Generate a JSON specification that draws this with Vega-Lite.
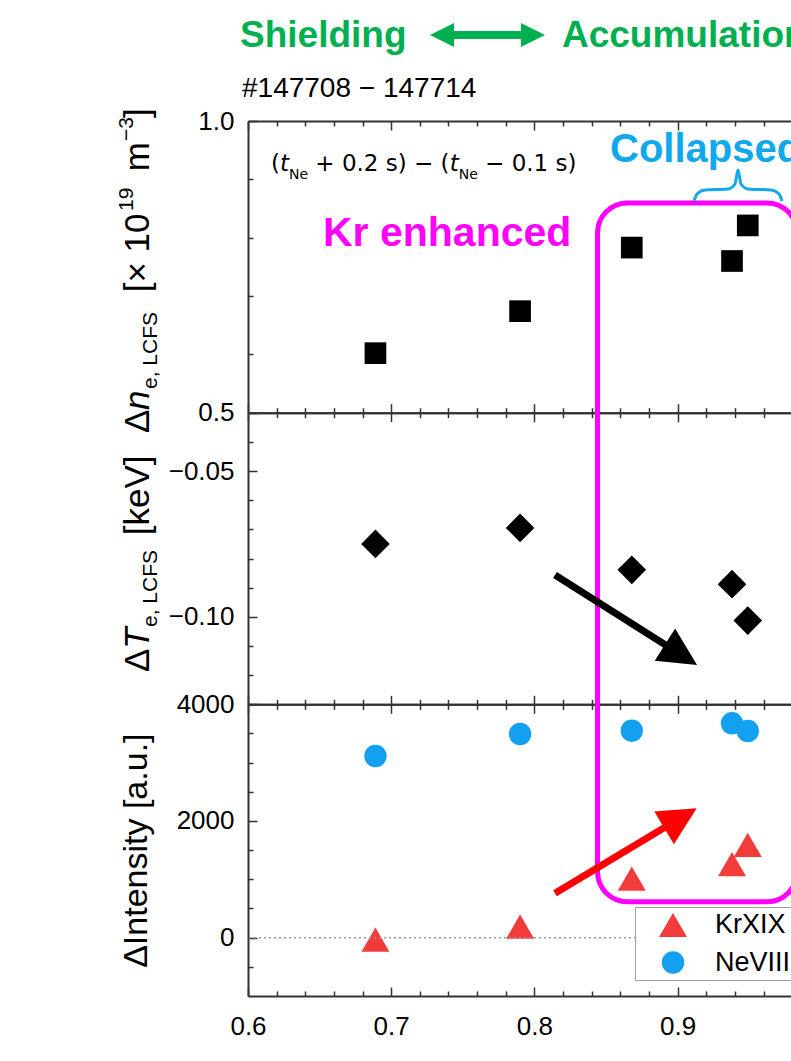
{
  "$schema": "https://vega.github.io/schema/vega-lite/v6.json",
  "width": 543,
  "height": 875,
  "autosize": "none",
  "padding": {"left": 248, "top": 121, "right": 0, "bottom": 65},
  "background": "white",
  "config": {
    "view": {"stroke": null},
    "axis": {
      "domainColor": "#333333", "domainWidth": 2, "tickColor": "#333333", "tickWidth": 1.5, "ticks": true, "tickOpacity": 1,
      "labelFont": "Liberation Sans", "labelFontSize": 26, "labelColor": "#000000",
      "grid": false, "labelFlush": false, "labelOverlap": false
    }
  },
  "datasets": {
    "ne": [
      {"ne": 0.689, "dne": 0.602},
      {"ne": 0.790, "dne": 0.674},
      {"ne": 0.868, "dne": 0.783},
      {"ne": 0.938, "dne": 0.760},
      {"ne": 0.949, "dne": 0.821}
    ],
    "te": [
      {"ne": 0.689, "dte": -0.0750},
      {"ne": 0.790, "dte": -0.0695},
      {"ne": 0.868, "dte": -0.0839},
      {"ne": 0.938, "dte": -0.0888},
      {"ne": 0.949, "dte": -0.1013}
    ],
    "inten": [
      {"ne": 0.689, "ion": "KrXIX", "dI": -32},
      {"ne": 0.790, "ion": "KrXIX", "dI": 188},
      {"ne": 0.868, "ion": "KrXIX", "dI": 1011},
      {"ne": 0.938, "ion": "KrXIX", "dI": 1259},
      {"ne": 0.949, "ion": "KrXIX", "dI": 1589},
      {"ne": 0.689, "ion": "NeVIII", "dI": 3114},
      {"ne": 0.790, "ion": "NeVIII", "dI": 3491},
      {"ne": 0.868, "ion": "NeVIII", "dI": 3548},
      {"ne": 0.938, "ion": "NeVIII", "dI": 3675},
      {"ne": 0.949, "ion": "NeVIII", "dI": 3543}
    ]
  },
  "layer": [
    {
      "data": {"name": "ne"},
      "mark": {"type": "point", "shape": "square", "filled": true, "size": 470, "color": "#000000", "opacity": 1},
      "encoding": {
        "x": {"field": "ne", "type": "quantitative", "scale": {"domain": [0.6, 0.97919], "nice": false, "zero": false},
          "axis": {"orient": "top", "values": [0.6, 0.7, 0.8, 0.9], "labels": false, "title": null, "tickSize": -9}},
        "y": {"field": "dne", "type": "quantitative", "scale": {"domain": [0.5, 1], "range": [291.67, 0], "nice": false, "zero": false},
          "axis": {"orient": "left", "values": [0.5, 1.0], "format": ".1f", "title": null, "tickSize": -9, "labelPadding": 23}}
      }
    },
    {
      "data": {"name": "te"},
      "mark": {"type": "point", "shape": "diamond", "filled": true, "size": 820, "color": "#000000", "opacity": 1},
      "encoding": {
        "x": {"field": "ne", "type": "quantitative", "scale": {"domain": [0.6, 0.97919], "nice": false, "zero": false},
          "axis": {"orient": "bottom", "offset": -583.33, "values": [0.6, 0.7, 0.8, 0.9], "labels": false, "title": null, "tickSize": 9}},
        "y": {"field": "dte", "type": "quantitative", "scale": {"domain": [-0.13, -0.03], "range": [583.33, 291.67], "nice": false, "zero": false},
          "axis": {"orient": "left", "values": [-0.1, -0.05], "format": ".2f", "title": null, "tickSize": -9, "labelPadding": 23}}
      }
    },
    {
      "data": {"name": "inten"},
      "mark": {"type": "point", "filled": true, "opacity": 1, "strokeWidth": 0},
      "encoding": {
        "x": {"field": "ne", "type": "quantitative", "scale": {"domain": [0.6, 0.97919], "nice": false, "zero": false},
          "axis": {"orient": "bottom", "values": [0.6, 0.7, 0.8, 0.9], "format": ".1f", "title": null, "tickSize": -9, "labelPadding": 26}},
        "y": {"field": "dI", "type": "quantitative", "scale": {"domain": [-1000, 4000], "range": [875, 583.33], "nice": false, "zero": false},
          "axis": {"orient": "left", "values": [0, 2000, 4000], "format": "d", "tickSize": -9, "labelPadding": 23,
            "title": "ΔIntensity [a.u.]", "titleX": -102, "titleAngle": 270, "titleBaseline": "alphabetic", "titleAlign": "center",
            "titleFont": "Liberation Sans", "titleFontSize": 34, "titleFontWeight": "normal", "titleColor": "#000000"}},
        "color": {"field": "ion", "type": "nominal", "scale": {"domain": ["KrXIX", "NeVIII"], "range": ["#F23B3B", "#14A0F0"]},
          "legend": {"title": null, "orient": "none", "legendX": 387, "legendY": 786, "padding": 4, "fillColor": "white", "strokeColor": "#A0A0A0",
            "labelFont": "Liberation Sans", "labelFontSize": 27, "labelColor": "#000000", "symbolOffset": 20, "labelOffset": 28, "rowPadding": 10, "symbolStrokeWidth": 0, "symbolOpacity": 1}},
        "shape": {"field": "ion", "type": "nominal", "scale": {"domain": ["KrXIX", "NeVIII"], "range": ["triangle-up", "circle"]},
          "legend": {"title": null, "orient": "none", "legendX": 387, "legendY": 786, "padding": 4, "fillColor": "white", "strokeColor": "#A0A0A0",
            "labelFont": "Liberation Sans", "labelFontSize": 27, "labelColor": "#000000", "symbolOffset": 20, "labelOffset": 28, "rowPadding": 10, "symbolStrokeWidth": 0, "symbolOpacity": 1}},
        "size": {"field": "ion", "type": "nominal", "scale": {"domain": ["KrXIX", "NeVIII"], "range": [784, 500]},
          "legend": {"title": null, "orient": "none", "legendX": 387, "legendY": 786, "padding": 4, "fillColor": "white", "strokeColor": "#A0A0A0",
            "labelFont": "Liberation Sans", "labelFontSize": 27, "labelColor": "#000000", "symbolOffset": 20, "labelOffset": 28, "rowPadding": 10, "symbolStrokeWidth": 0, "symbolOpacity": 1}}
      }
    },
    {
      "data": {"values": [{"v": 0}]},
      "mark": {"type": "rule", "color": "#999999", "strokeWidth": 1.5, "strokeDash": [2, 3]},
      "encoding": {
        "y": {"field": "v", "type": "quantitative", "scale": {"domain": [-1000, 4000], "range": [875, 583.33], "nice": false, "zero": false},
          "axis": {"orient": "left", "values": [-500, 500, 1000, 1500, 2500, 3000, 3500], "labels": false, "domain": false, "title": null, "tickSize": -5}}
      }
    },
    {
      "data": {"values": [{"xa": 0.84406, "xb": 0.9834, "ya": 0.85943, "yb": -0.33834}]},
      "mark": {"type": "rect", "filled": false, "stroke": "#FF00FF", "strokeWidth": 5, "cornerRadius": 30},
      "encoding": {
        "x": {"field": "xa", "type": "quantitative", "scale": {"domain": [0.6, 0.97919], "nice": false, "zero": false},
          "axis": {"orient": "bottom", "offset": -583.33, "values": [0.6, 0.7, 0.8, 0.9], "labels": false, "title": null, "tickSize": -9}},
        "x2": {"field": "xb"},
        "y": {"field": "ya", "type": "quantitative", "scale": {"domain": [0.5, 1], "range": [291.67, 0], "nice": false, "zero": false},
          "axis": {"orient": "left", "values": [0.6, 0.7, 0.8, 0.9], "labels": false, "domain": false, "title": null, "tickSize": -5}},
        "y2": {"field": "yb"}
      }
    },
    {
      "data": {"values": [
        {"bx": 0.91145, "by": 0.86286}, {"bx": 0.91355, "by": 0.87486}, {"bx": 0.91913, "by": 0.88171},
        {"bx": 0.93520, "by": 0.88343}, {"bx": 0.94008, "by": 0.89200}, {"bx": 0.94218, "by": 0.91600},
        {"bx": 0.94428, "by": 0.89200}, {"bx": 0.94916, "by": 0.88343}, {"bx": 0.96522, "by": 0.88171},
        {"bx": 0.97081, "by": 0.87486}, {"bx": 0.97291, "by": 0.86286}
      ]},
      "mark": {"type": "line", "interpolate": "monotone", "stroke": "#12A8EC", "strokeWidth": 3},
      "encoding": {
        "x": {"field": "bx", "type": "quantitative", "scale": {"domain": [0.6, 0.97919], "nice": false, "zero": false},
          "axis": {"orient": "bottom", "offset": -291.67, "values": [0.6, 0.7, 0.8, 0.9], "labels": false, "title": null, "tickSize": 9}},
        "y": {"field": "by", "type": "quantitative", "scale": {"domain": [0.5, 1], "range": [291.67, 0], "nice": false, "zero": false}, "axis": null}
      }
    },
    {
      "data": {"values": [{"xa": 0.81439, "ya": -0.08566, "xb": 0.90237, "yb": -0.11302}]},
      "mark": {"type": "rule", "color": "#000000", "strokeWidth": 7},
      "encoding": {
        "x": {"field": "xa", "type": "quantitative", "scale": {"domain": [0.6, 0.97919], "nice": false, "zero": false},
          "axis": {"orient": "bottom", "offset": -291.67, "values": [0.6, 0.7, 0.8, 0.9], "labels": false, "title": null, "tickSize": -9}},
        "x2": {"field": "xb"},
        "y": {"field": "ya", "type": "quantitative", "scale": {"domain": [-0.13, -0.03], "range": [583.33, 291.67], "nice": false, "zero": false},
          "axis": {"orient": "left", "values": [-0.12, -0.11, -0.09, -0.08, -0.07, -0.06, -0.04], "labels": false, "domain": false, "title": null, "tickSize": -5}},
        "y2": {"field": "yb"}
      }
    },
    {
      "data": {"values": [{"xa": 0.90237, "ya": -0.11302}]},
      "mark": {"type": "point", "shape": "M1,0L-1,-1L-1,1Z", "size": 1444, "angle": 32.4, "filled": true, "color": "#000000", "opacity": 1},
      "encoding": {
        "x": {"field": "xa", "type": "quantitative", "scale": {"domain": [0.6, 0.97919], "nice": false, "zero": false},
          "axis": {"orient": "bottom", "offset": -583.33, "values": [0.62,0.64,0.66,0.68,0.72,0.74,0.76,0.78,0.82,0.84,0.86,0.88,0.92,0.94,0.96], "labels": false, "domain": false, "title": null, "tickSize": 5}},
        "y": {"field": "ya", "type": "quantitative", "scale": {"domain": [-0.13, -0.03], "range": [583.33, 291.67], "nice": false, "zero": false}, "axis": null}
      }
    },
    {
      "data": {"values": [{"xa": 0.81439, "ya": 760, "xb": 0.90196, "yb": 2050}]},
      "mark": {"type": "rule", "color": "#FF0000", "strokeWidth": 7},
      "encoding": {
        "x": {"field": "xa", "type": "quantitative", "scale": {"domain": [0.6, 0.97919], "nice": false, "zero": false},
          "axis": {"orient": "bottom", "values": [0.62,0.64,0.66,0.68,0.72,0.74,0.76,0.78,0.82,0.84,0.86,0.88,0.92,0.94,0.96], "labels": false, "domain": false, "title": null, "tickSize": -5}},
        "x2": {"field": "xb"},
        "y": {"field": "ya", "type": "quantitative", "scale": {"domain": [-1000, 4000], "range": [875, 583.33], "nice": false, "zero": false}, "axis": null},
        "y2": {"field": "yb"}
      }
    },
    {
      "data": {"values": [{"xa": 0.90196, "ya": 2050}]},
      "mark": {"type": "point", "shape": "M1,0L-1,-1L-1,1Z", "size": 1444, "angle": -31, "filled": true, "color": "#FF0000", "opacity": 1},
      "encoding": {
        "x": {"field": "xa", "type": "quantitative", "scale": {"domain": [0.6, 0.97919], "nice": false, "zero": false},
          "axis": {"orient": "top", "values": [0.62,0.64,0.66,0.68,0.72,0.74,0.76,0.78,0.82,0.84,0.86,0.88,0.92,0.94,0.96], "labels": false, "domain": false, "title": null, "tickSize": -5}},
        "y": {"field": "ya", "type": "quantitative", "scale": {"domain": [-1000, 4000], "range": [875, 583.33], "nice": false, "zero": false}, "axis": null}
      }
    },
    {
      "data": {"values": [{"x": 0.59441, "y": 1.12686, "t": "Shielding"}, {"x": 0.81927, "y": 1.12686, "t": "Accumulation"}]},
      "mark": {"type": "text", "align": "left", "baseline": "alphabetic", "font": "Liberation Sans", "fontWeight": "bold", "fontSize": 37, "color": "#00B050"},
      "encoding": {
        "x": {"field": "x", "type": "quantitative", "scale": {"domain": [0.6, 0.97919], "nice": false, "zero": false},
          "axis": {"orient": "bottom", "offset": -583.33, "values": [0.62,0.64,0.66,0.68,0.72,0.74,0.76,0.78,0.82,0.84,0.86,0.88,0.92,0.94,0.96], "labels": false, "domain": false, "title": null, "tickSize": -5}},
        "y": {"field": "y", "type": "quantitative", "scale": {"domain": [0.5, 1], "range": [291.67, 0], "nice": false, "zero": false}, "axis": null},
        "text": {"field": "t"}
      }
    },
    {
      "data": {"values": [{"xa": 0.73547, "xb": 0.79902, "y": 1.14743}]},
      "mark": {"type": "rule", "color": "#00B050", "strokeWidth": 8},
      "encoding": {
        "x": {"field": "xa", "type": "quantitative", "scale": {"domain": [0.6, 0.97919], "nice": false, "zero": false},
          "axis": {"orient": "bottom", "offset": -291.67, "values": [0.62,0.64,0.66,0.68,0.72,0.74,0.76,0.78,0.82,0.84,0.86,0.88,0.92,0.94,0.96], "labels": false, "domain": false, "title": null, "tickSize": 5}},
        "x2": {"field": "xb"},
        "y": {"field": "y", "type": "quantitative", "scale": {"domain": [0.5, 1], "range": [291.67, 0], "nice": false, "zero": false}, "axis": null}
      }
    },
    {
      "data": {"values": [{"x": 0.73547, "y": 1.14743}]},
      "mark": {"type": "point", "shape": "M-1,0L1,-1L1,1Z", "size": 576, "filled": true, "color": "#00B050", "opacity": 1},
      "encoding": {
        "x": {"field": "x", "type": "quantitative", "scale": {"domain": [0.6, 0.97919], "nice": false, "zero": false},
          "axis": {"orient": "bottom", "offset": -291.67, "values": [0.62,0.64,0.66,0.68,0.72,0.74,0.76,0.78,0.82,0.84,0.86,0.88,0.92,0.94,0.96], "labels": false, "domain": false, "title": null, "tickSize": -5}},
        "y": {"field": "y", "type": "quantitative", "scale": {"domain": [0.5, 1], "range": [291.67, 0], "nice": false, "zero": false}, "axis": null}
      }
    },
    {
      "data": {"values": [{"x": 0.79902, "y": 1.14743}]},
      "mark": {"type": "point", "shape": "M1,0L-1,-1L-1,1Z", "size": 576, "filled": true, "color": "#00B050", "opacity": 1},
      "encoding": {
        "x": {"field": "x", "type": "quantitative", "scale": {"domain": [0.6, 0.97919], "nice": false, "zero": false}, "axis": null},
        "y": {"field": "y", "type": "quantitative", "scale": {"domain": [0.5, 1], "range": [291.67, 0], "nice": false, "zero": false}, "axis": null}
      }
    },
    {
      "data": {"values": [{"x": 0.59581, "y": 1.04114, "t": "#147708 − 147714"}]},
      "mark": {"type": "text", "align": "left", "baseline": "alphabetic", "font": "Liberation Sans", "fontSize": 28, "color": "#000000"},
      "encoding": {
        "x": {"field": "x", "type": "quantitative", "scale": {"domain": [0.6, 0.97919], "nice": false, "zero": false}, "axis": null},
        "y": {"field": "y", "type": "quantitative", "scale": {"domain": [0.5, 1], "range": [291.67, 0], "nice": false, "zero": false}, "axis": null},
        "text": {"field": "t"}
      }
    },
    {
      "data": {"values": [{"x": 0.61606, "y": 0.91429, "t": "("}, {"x": 0.64700, "y": 0.91429, "t": "+ 0.2 s) − ("}, {"x": 0.76557, "y": 0.91429, "t": "− 0.1 s)"}]},
      "mark": {"type": "text", "align": "left", "baseline": "alphabetic", "font": "DejaVu Sans", "fontSize": 23, "color": "#000000"},
      "encoding": {
        "x": {"field": "x", "type": "quantitative", "scale": {"domain": [0.6, 0.97919], "nice": false, "zero": false}, "axis": null},
        "y": {"field": "y", "type": "quantitative", "scale": {"domain": [0.5, 1], "range": [291.67, 0], "nice": false, "zero": false}, "axis": null},
        "text": {"field": "t"}
      }
    },
    {
      "data": {"values": [{"x": 0.62235, "y": 0.91429, "t": "t"}, {"x": 0.74085, "y": 0.91429, "t": "t"}]},
      "mark": {"type": "text", "align": "left", "baseline": "alphabetic", "font": "DejaVu Sans", "fontStyle": "italic", "fontSize": 23, "color": "#000000"},
      "encoding": {
        "x": {"field": "x", "type": "quantitative", "scale": {"domain": [0.6, 0.97919], "nice": false, "zero": false}, "axis": null},
        "y": {"field": "y", "type": "quantitative", "scale": {"domain": [0.5, 1], "range": [291.67, 0], "nice": false, "zero": false}, "axis": null},
        "text": {"field": "t"}
      }
    },
    {
      "data": {"values": [{"x": 0.62863, "y": 0.90057, "t": "Ne"}, {"x": 0.74714, "y": 0.90057, "t": "Ne"}]},
      "mark": {"type": "text", "align": "left", "baseline": "alphabetic", "font": "DejaVu Sans", "fontSize": 14, "color": "#000000"},
      "encoding": {
        "x": {"field": "x", "type": "quantitative", "scale": {"domain": [0.6, 0.97919], "nice": false, "zero": false}, "axis": null},
        "y": {"field": "y", "type": "quantitative", "scale": {"domain": [0.5, 1], "range": [291.67, 0], "nice": false, "zero": false}, "axis": null},
        "text": {"field": "t"}
      }
    },
    {
      "data": {"values": [{"x": 0.65237, "y": 0.78486, "t": "Kr enhanced"}]},
      "mark": {"type": "text", "align": "left", "baseline": "alphabetic", "font": "Liberation Sans", "fontWeight": "bold", "fontSize": 41, "color": "#FF00FF"},
      "encoding": {
        "x": {"field": "x", "type": "quantitative", "scale": {"domain": [0.6, 0.97919], "nice": false, "zero": false}, "axis": null},
        "y": {"field": "y", "type": "quantitative", "scale": {"domain": [0.5, 1], "range": [291.67, 0], "nice": false, "zero": false}, "axis": null},
        "text": {"field": "t"}
      }
    },
    {
      "data": {"values": [{"x": 0.85279, "y": 0.92971, "t": "Collapsed"}]},
      "mark": {"type": "text", "align": "left", "baseline": "alphabetic", "font": "Liberation Sans", "fontWeight": "bold", "fontSize": 40, "color": "#12A8EC"},
      "encoding": {
        "x": {"field": "x", "type": "quantitative", "scale": {"domain": [0.6, 0.97919], "nice": false, "zero": false}, "axis": null},
        "y": {"field": "y", "type": "quantitative", "scale": {"domain": [0.5, 1], "range": [291.67, 0], "nice": false, "zero": false}, "axis": null},
        "text": {"field": "t"}
      }
    },
    {
      "data": {"values": [
        {"x": 0.53087, "y": 0.46514, "t": "Δ"}, {"x": 0.53087, "y": 0.70634, "t": "[× 10"},
        {"x": 0.53087, "y": 0.91377, "t": "m"}, {"x": 0.53087, "y": 1.00514, "t": "]"},
        {"x": 0.53087, "y": 0.05543, "t": "Δ"}, {"x": 0.53087, "y": 0.28977, "t": "[keV]"}
      ]},
      "mark": {"type": "text", "align": "left", "baseline": "alphabetic", "angle": 270, "font": "Liberation Sans", "fontSize": 35, "color": "#000000"},
      "encoding": {
        "x": {"field": "x", "type": "quantitative", "scale": {"domain": [0.6, 0.97919], "nice": false, "zero": false}, "axis": null},
        "y": {"field": "y", "type": "quantitative", "scale": {"domain": [0.5, 1], "range": [291.67, 0], "nice": false, "zero": false}, "axis": null},
        "text": {"field": "t"}
      }
    },
    {
      "data": {"values": [{"x": 0.53087, "y": 0.50457, "t": "n"}, {"x": 0.53087, "y": 0.09486, "t": "T"}]},
      "mark": {"type": "text", "align": "left", "baseline": "alphabetic", "angle": 270, "font": "Liberation Sans", "fontStyle": "italic", "fontSize": 35, "color": "#000000"},
      "encoding": {
        "x": {"field": "x", "type": "quantitative", "scale": {"domain": [0.6, 0.97919], "nice": false, "zero": false}, "axis": null},
        "y": {"field": "y", "type": "quantitative", "scale": {"domain": [0.5, 1], "range": [291.67, 0], "nice": false, "zero": false}, "axis": null},
        "text": {"field": "t"}
      }
    },
    {
      "data": {"values": [
        {"x": 0.53645, "y": 0.54057, "t": "e, LCFS"}, {"x": 0.53645, "y": 0.13257, "t": "e, LCFS"},
        {"x": 0.51969, "y": 0.84571, "t": "19"}, {"x": 0.51969, "y": 0.96571, "t": "−3"}
      ]},
      "mark": {"type": "text", "align": "left", "baseline": "alphabetic", "angle": 270, "font": "Liberation Sans", "fontSize": 21, "color": "#000000"},
      "encoding": {
        "x": {"field": "x", "type": "quantitative", "scale": {"domain": [0.6, 0.97919], "nice": false, "zero": false}, "axis": null},
        "y": {"field": "y", "type": "quantitative", "scale": {"domain": [0.5, 1], "range": [291.67, 0], "nice": false, "zero": false}, "axis": null},
        "text": {"field": "t"}
      }
    }
  ],
  "resolve": {
    "scale": {"x": "independent", "y": "independent"},
    "axis": {"x": "independent", "y": "independent"}
  }
}
